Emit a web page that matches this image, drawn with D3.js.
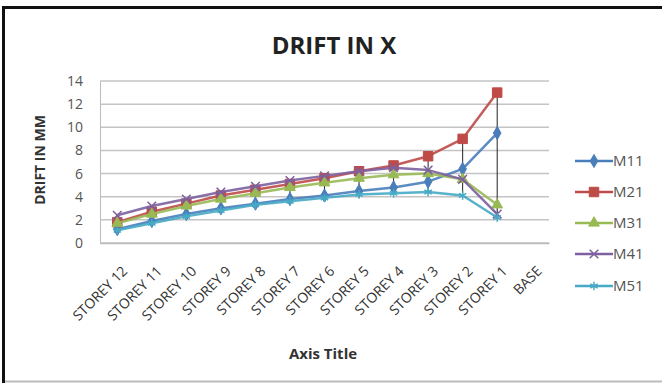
<!DOCTYPE html>
<html>
<head>
<meta charset="utf-8">
<script src="https://cdn.jsdelivr.net/npm/d3@7"></script>
<style>
  html, body { margin: 0; padding: 0; background: #fff; }
  svg { display: block; font-family: "Open Sans", Lato, sans-serif; }
</style>
</head>
<body>
<svg id="chart" width="662" height="383"></svg>
<script>
// Storey drift values (mm) per model
const categories = ["STOREY 12", "STOREY 11", "STOREY 10", "STOREY 9", "STOREY 8", "STOREY 7",
                    "STOREY 6", "STOREY 5", "STOREY 4", "STOREY 3", "STOREY 2", "STOREY 1", "BASE"];
const seriesNames = ["M11", "M21", "M31", "M41", "M51"];
const m11 = [1.2, 1.9, 2.5, 3.0, 3.4, 3.8, 4.1, 4.5, 4.8, 5.3, 6.4, 9.5, null];
const m21 = [1.8, 2.7, 3.4, 4.1, 4.6, 5.1, 5.6, 6.2, 6.7, 7.5, 9.0, 13.0, null];
const m31 = [1.7, 2.5, 3.2, 3.8, 4.3, 4.8, 5.2, 5.6, 5.9, 6.0, 5.5, 3.3, null];
const m41 = [2.4, 3.2, 3.8, 4.4, 4.9, 5.4, 5.8, 6.2, 6.5, 6.3, 5.5, 2.5, null];
const m51 = [1.1, 1.7, 2.3, 2.8, 3.3, 3.6, 3.9, 4.2, 4.3, 4.4, 4.1, 2.2, null];
const yTicks = [0, 2, 4, 6, 8, 10, 12, 14];
const colors = ["#4a7ebb", "#be4b48", "#98b954", "#7d60a0", "#46aac5"];
const symbols = [d3.symbolDiamond, d3.symbolSquare, d3.symbolTriangle, d3.symbolTimes, d3.symbolAsterisk];

const seriesValues = [m11, m21, m31, m41, m51];

const svg = d3.select("#chart");
const plot = { left: 100, right: 549, top: 81, bottom: 243 };

// chart frame
svg.append("line").attr("x1", 4).attr("y1", 7.5).attr("x2", 662).attr("y2", 7.5)
  .attr("stroke", "#111").attr("stroke-width", 3);
svg.append("line").attr("x1", 3.5).attr("y1", 6).attr("x2", 3.5).attr("y2", 383)
  .attr("stroke", "#111").attr("stroke-width", 3);
svg.append("line").attr("x1", 5).attr("y1", 381.5).attr("x2", 662).attr("y2", 381.5)
  .attr("stroke", "#bbb").attr("stroke-width", 2);

const x = d3.scaleBand().domain(categories).range([plot.left, plot.right]);
const y = d3.scaleLinear().domain([0, 14]).range([plot.bottom, plot.top]);
const cx = c => x(c) + x.bandwidth() / 2;

// horizontal gridlines
svg.append("g").selectAll("line").data(yTicks).join("line")
  .attr("x1", plot.left).attr("x2", plot.right)
  .attr("y1", d => y(d)).attr("y2", d => y(d))
  .attr("stroke", "#c4c4c4").attr("stroke-width", 1.5);

// y axis
const yAxis = svg.append("g").attr("transform", `translate(${plot.left},0)`)
  .call(d3.axisLeft(y).tickValues(yTicks).tickSize(0).tickPadding(17));
yAxis.select(".domain").attr("stroke", "#bbb");
yAxis.selectAll("text").attr("font-size", 14).attr("fill", "#555")
  .attr("font-family", "'Open Sans', sans-serif");

// x axis
const xAxis = svg.append("g").attr("transform", `translate(0,${plot.bottom})`)
  .call(d3.axisBottom(x).tickSize(0));
xAxis.select(".domain").attr("stroke", "#bbb").attr("stroke-width", 1.5);
xAxis.selectAll("text")
  .attr("font-size", 14).attr("fill", "#333").attr("font-family", "'Open Sans', sans-serif")
  .attr("text-anchor", "end")
  .attr("dy", null).attr("y", 0)
  .attr("transform", "translate(11,29) rotate(-45)");

// high-low lines
const hl = categories.map((c, i) => {
  const vals = seriesValues.map(s => s[i]).filter(v => v != null);
  return vals.length ? { c, hi: d3.max(vals), lo: d3.min(vals) } : null;
}).filter(Boolean);
svg.append("g").selectAll("line").data(hl).join("line")
  .attr("x1", d => cx(d.c)).attr("x2", d => cx(d.c))
  .attr("y1", d => y(d.hi)).attr("y2", d => y(d.lo))
  .attr("stroke", "#222").attr("stroke-width", 1);

// series lines and markers
const line = d3.line().defined(d => d.v != null).x(d => cx(d.c)).y(d => y(d.v));
seriesValues.forEach((vals, k) => {
  const pts = categories.map((c, i) => ({ c, v: vals[i] }));
  const g = svg.append("g");
  g.append("path").datum(pts).attr("d", line)
    .attr("fill", "none").attr("stroke", colors[k]).attr("stroke-width", 2.5)
    .attr("stroke-linejoin", "round").attr("opacity", 0.9);
  const sym = d3.symbol().type(symbols[k]).size(k === 1 ? 90 : 50);
  g.selectAll("path.m").data(pts.filter(d => d.v != null)).join("path")
    .attr("class", "m")
    .attr("transform", d => `translate(${cx(d.c)},${y(d.v)})`)
    .attr("d", sym)
    .attr("fill", k >= 3 ? "none" : colors[k])
    .attr("stroke", colors[k]).attr("stroke-width", k >= 3 ? 1.5 : 1);
});

// title
svg.append("text").attr("x", 334).attr("y", 54).attr("text-anchor", "middle")
  .attr("font-size", 24).attr("font-weight", "bold").attr("fill", "#222")
  .text("DRIFT IN X");

// axis titles
svg.append("text").attr("transform", "translate(45,160) rotate(-90)")
  .attr("text-anchor", "middle").attr("font-size", 14).attr("font-weight", "bold")
  .attr("fill", "#333").text("DRIFT IN MM");
svg.append("text").attr("x", 323).attr("y", 359).attr("text-anchor", "middle")
  .attr("font-size", 15).attr("font-weight", "bold").attr("fill", "#333")
  .text("Axis Title");

// legend
const legend = svg.append("g");
const legendY = [161, 192, 223, 254, 286];
seriesNames.forEach((name, k) => {
  const gy = legendY[k];
  legend.append("line").attr("x1", 575).attr("x2", 613).attr("y1", gy).attr("y2", gy)
    .attr("stroke", colors[k]).attr("stroke-width", 2.5);
  legend.append("path").attr("transform", `translate(594,${gy})`)
    .attr("d", d3.symbol().type(symbols[k]).size(k === 1 ? 90 : 50))
    .attr("fill", k >= 3 ? "none" : colors[k])
    .attr("stroke", colors[k]).attr("stroke-width", k >= 3 ? 1.5 : 1);
  legend.append("text").attr("x", 613).attr("y", gy).attr("dy", "0.36em")
    .attr("font-size", 15).attr("fill", "#555").text(name);
});
</script>
</body>
</html>
